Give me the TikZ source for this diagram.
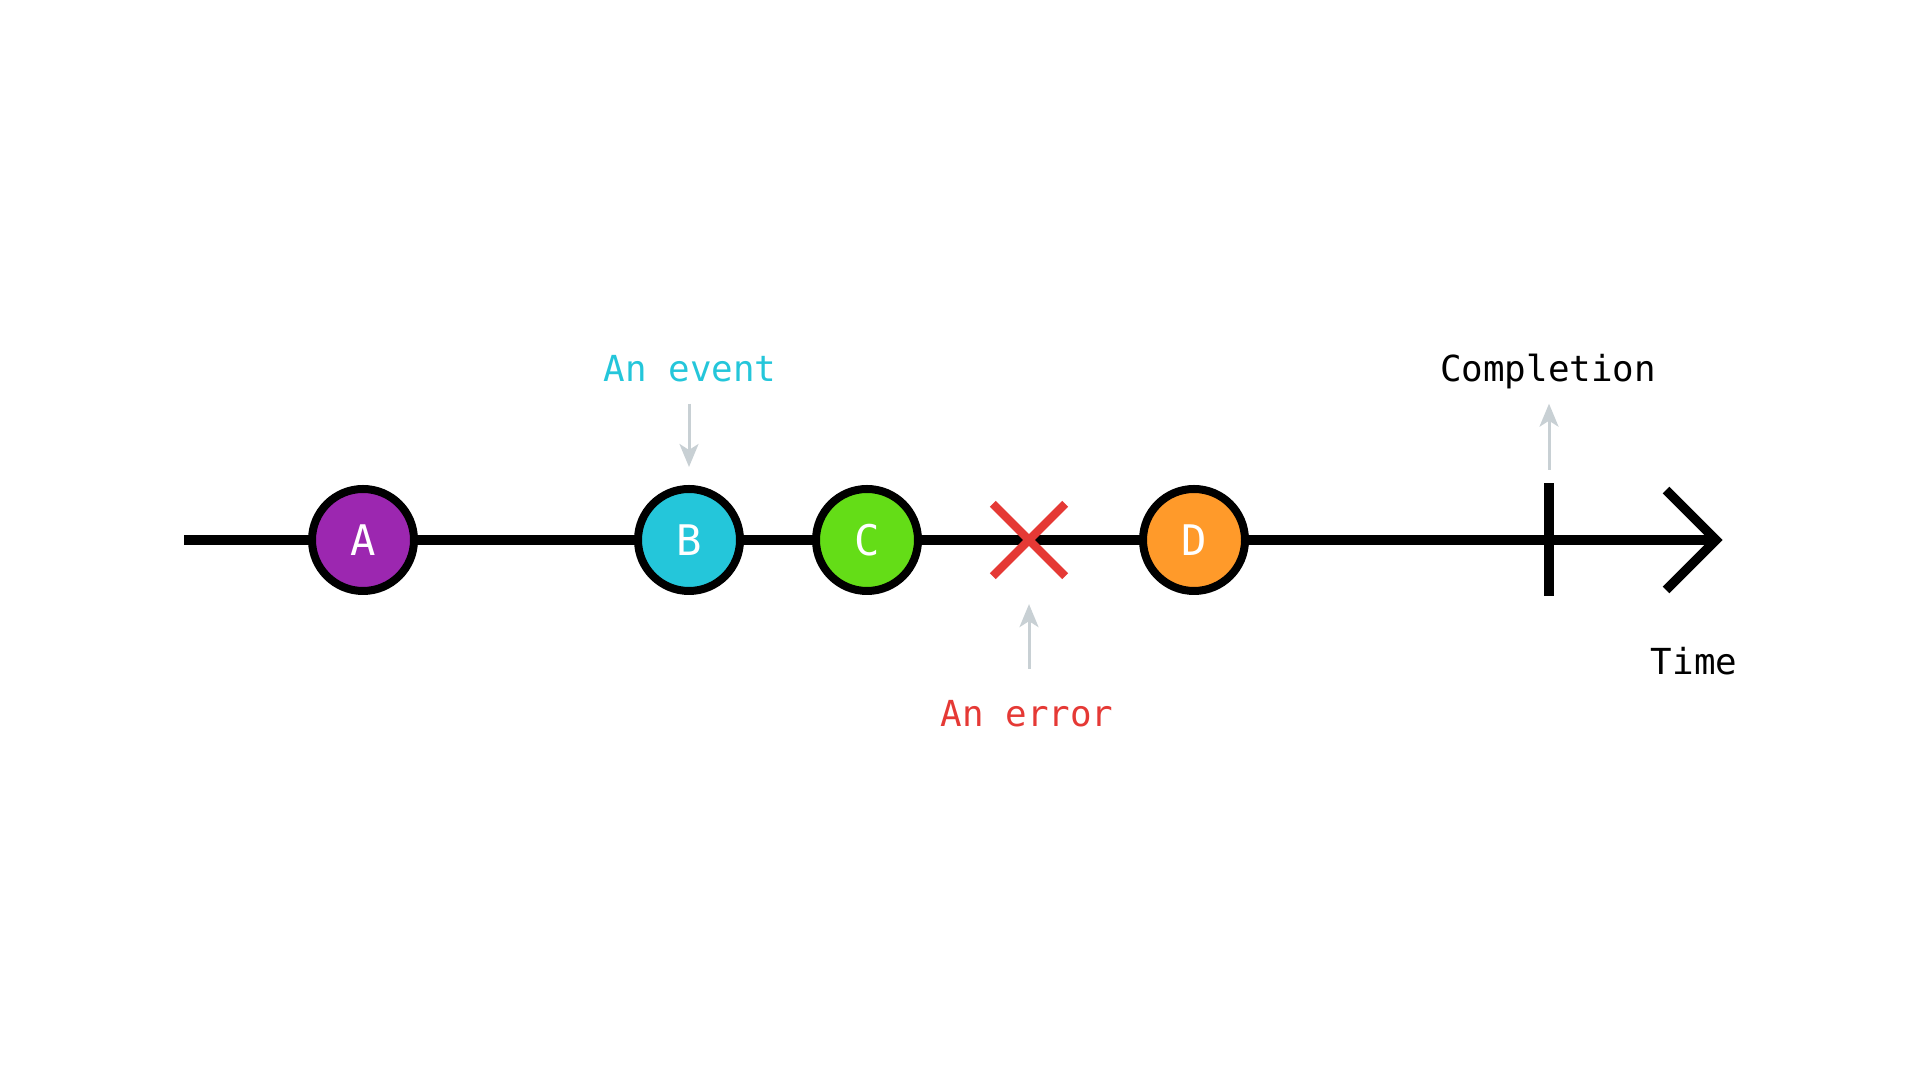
\documentclass[tikz,border=0pt]{standalone}
\usepackage{fontspec}
\setmainfont{DejaVu Sans Mono}
\usetikzlibrary{arrows.meta,shapes.misc}
\definecolor{evpurple}{HTML}{9C27B0}
\definecolor{evcyan}{HTML}{24C6DA}
\definecolor{evgreen}{HTML}{64DD17}
\definecolor{evorange}{HTML}{FF9A2A}
\definecolor{errred}{HTML}{E53935}
\definecolor{pointgray}{HTML}{C8D0D4}
\begin{document}
\begin{tikzpicture}[
    event/.style={circle, draw=black, line width=0.08cm, minimum size=1.02cm, inner sep=0pt,
        text=white, font=\fontsize{12}{14}\selectfont},
    timeline/.style={line width=0.093cm},
    pointer/.style={draw=pointgray, line width=0.03cm, -{Stealth[length=2.3mm, width=1.9mm, inset=0.6mm]}},
    caption/.style={anchor=base, inner sep=0pt, font=\fontsize{10.2}{12}\selectfont}
]
    \useasboundingbox (0,0) rectangle (19.2,10.8);

    % the stream
    \coordinate (start) at (1.84,5.4);
    \coordinate (tip) at (17.16,5.4);
    \draw[timeline] (start) -- (tip);
    \draw[timeline, miter limit=4] (tip) ++(-0.5,0.5) -- (tip) -- ++(-0.5,-0.5);

    \node[event, fill=evpurple] (a) at (3.63,5.4) {A};
    \node[event, fill=evcyan] (b) at (6.89,5.4) {B};
    \node[event, fill=evgreen] (c) at (8.67,5.4) {C};
    \node[cross out, draw=errred, line width=0.083cm, minimum size=0.64cm, inner sep=0pt] (err) at (10.29,5.4) {};
    \node[event, fill=evorange] (d) at (11.94,5.4) {D};

    % completion tick
    \coordinate (done) at (15.49,5.4);
    \coordinate (donetop) at (15.49,5.965);
    \coordinate (donebot) at (15.49,4.835);
    \draw[timeline] (donetop) -- (donebot);

    % captions
    \node[caption, text=evcyan] (eventlabel) at (6.90,6.983) {An event};
    \node[caption] (donelabel) at (15.48,6.983) {Completion};
    \node[caption] (timelabel) at (16.94,4.05) {Time};
    \node[caption, text=errred] (errorlabel) at (10.27,3.533) {An error};

    \draw[pointer, shorten <=0.22cm, shorten >=0.18cm] (eventlabel.base -| b) -- (b.north);
    \draw[pointer, shorten <=0.135cm, shorten >=0.22cm] (donetop) -- (donetop |- donelabel.base);
    \draw[pointer, shorten <=0.31cm, shorten >=0.28cm] (err |- errorlabel.north) -- (err.south);
\end{tikzpicture}
\end{document}
